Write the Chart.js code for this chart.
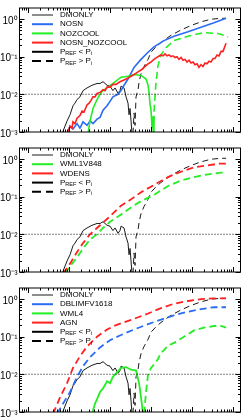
<!DOCTYPE html>
<html><head><meta charset="utf-8">
<script src="https://cdn.jsdelivr.net/npm/chart.js@4.4.1/dist/chart.umd.min.js"></script>
<style>
html,body{margin:0;padding:0;background:#fff;overflow:hidden}
#wrap{position:relative;width:242px;height:419px;overflow:hidden}
canvas{position:absolute;left:0}
</style></head><body>
<div id="wrap">
<canvas id="c1" width="242" height="140" style="top:0"></canvas>
<canvas id="c2" width="242" height="140" style="top:140px"></canvas>
<canvas id="c3" width="242" height="140" style="top:280px"></canvas>
</div>
<script>
// ---------- axis limits & reference level ----------
const K_MIN = 0.0062, K_MAX = 1524;
const Y_MIN = 0.001, Y_MAX = 1.93;
const REF_LEVEL = 0.01;
const Y_TICK_VALUES = [1, 0.1, 0.01, 0.001];
const Y_TICK_LABELS = ['10\u2070', '10\u207B\u00B9', '10\u207B\u00B2', '10\u207B\u00B3'];

// ---------- DMONLY (same in every panel) ----------
const dmonlySolidK = [0.0676,0.0896,0.106,0.125,0.140,0.157,0.185,0.220,0.275,0.364,0.483,0.571,0.676,0.847,1.00,1.18,1.33,1.57,1.75,1.86,2.20,2.46,2.75,2.91,3.08,3.26,3.44];
const dmonlySolidP = [0.0009,0.00196,0.00287,0.00495,0.00583,0.00725,0.00853,0.0125,0.0147,0.0173,0.0193,0.0193,0.0215,0.0173,0.0164,0.0125,0.0147,0.0106,0.0125,0.0164,0.0147,0.00853,0.00583,0.00287,0.00421,0.00196,0.0009];
const dmonlyDashK = [3.64,3.85,4.08,4.31,4.83,5.11,5.71,6.76,8.47,10.0,13.2,17.5,23.2,30.8,54.0,94.7,166,291,511,676];
const dmonlyDashP = [0.0009,0.0032,0.0015,0.00853,0.0132,0.0205,0.0352,0.0544,0.084,0.130,0.180,0.236,0.294,0.365,0.506,0.665,0.83,0.973,1.03,1.03];

// ---------- panel 1 ----------
const nosnK = [0.0896,0.106,0.125,0.157,0.185,0.220,0.275,0.326,0.385,0.483,0.571,0.676,0.847,1.00,1.18,1.57,1.86,2.20,2.75,3.85,5.71,8.47,11.8,20.8,36.4,80.0,166,344,676];
const nosnP = [0.0009,0.00142,0.0012,0.00167,0.00127,0.00186,0.0015,0.00196,0.00167,0.00219,0.00244,0.00377,0.00495,0.0065,0.00853,0.0100,0.0125,0.0173,0.0254,0.0515,0.084,0.130,0.180,0.264,0.346,0.454,0.596,0.783,1.03];
const nozcoolSolidK = [0.291,0.326,0.385,0.483,0.571,0.676,0.847,1.18,1.86,2.75,3.85,5.71,7.57,8.47,8.96,9.47,10.0,10.6,11.2,11.8];
const nozcoolSolidP = [0.0009,0.00196,0.00421,0.00725,0.0100,0.0125,0.0147,0.0193,0.0283,0.0299,0.0333,0.0316,0.0254,0.0173,0.0112,0.0055,0.00377,0.00127,0.0026,0.0009];
const nozcoolDashK = [11.2,11.8,12.5,13.2,14.8,17.5,23.2,36.4,80.0,196,431,604,757];
const nozcoolDashP = [0.0009,0.0032,0.00853,0.0193,0.0574,0.110,0.171,0.264,0.346,0.430,0.407,0.365,0.328];
const nosnNozcoolK = [0.0947,0.106,0.118,0.125,0.140,0.157,0.185,0.208,0.232,0.275,0.308,0.344,0.385,0.431,0.483,0.571,0.676,0.757,0.847,1.00,1.18,1.40,1.75,2.20,2.75,3.26,3.85,4.83,5.71,6.76,8.47,10.0,11.8,14.8,17.5,19.6,22.0,24.6,27.5,30.8,34.4,38.5,43.1,48.3,54.0,60.4,67.6,75.7,84.7,94.7,106,118,133,148,166,186,208,232,260,291,326,364,408,456,511,571,639,676];
const nosnNozcoolP = [0.00097,0.00142,0.00127,0.00186,0.00167,0.00231,0.00272,0.00357,0.00338,0.0052,0.00583,0.0069,0.00853,0.00853,0.0106,0.0112,0.0132,0.0125,0.0155,0.0155,0.0183,0.0183,0.0215,0.0240,0.0268,0.0299,0.0333,0.0393,0.0438,0.0515,0.064,0.0714,0.084,0.099,0.110,0.104,0.117,0.104,0.110,0.099,0.104,0.094,0.099,0.084,0.094,0.0796,0.084,0.0714,0.0796,0.0676,0.0714,0.0606,0.064,0.0515,0.0606,0.0544,0.0676,0.064,0.0754,0.0714,0.0887,0.0887,0.110,0.104,0.137,0.137,0.19,0.224];

// ---------- panel 2 ----------
const wml1v848K = [0.0800,0.106,0.157,0.220,0.326,0.483,0.676,1.00,1.48,1.86,3.26,5.71,11.8,26.0,54.0,112,246,511,676];
const wml1v848P = [0.0009,0.00142,0.00244,0.00421,0.00725,0.0100,0.0147,0.0215,0.0283,0.0333,0.0515,0.0754,0.110,0.190,0.264,0.328,0.386,0.430,0.430];
const wdensK = [0.0715,0.106,0.157,0.220,0.326,0.571,1.00,1.86,3.26,5.71,11.8,26.0,54.0,112,246,431,676];
const wdensP = [0.0009,0.00167,0.00338,0.00583,0.0100,0.0173,0.0299,0.0574,0.084,0.130,0.201,0.328,0.454,0.596,0.665,0.741,0.741];

// ---------- panel 3 ----------
const agnK = [0.0408,0.0604,0.0896,0.125,0.185,0.275,0.483,0.847,1.25,1.86,3.85,8.47,17.5,36.4,80.0,166,344,676];
const agnP = [0.0009,0.00244,0.00583,0.0147,0.0299,0.0544,0.099,0.153,0.190,0.224,0.294,0.407,0.565,0.741,0.873,0.973,1.03,1.03];
const dblimK = [0.0511,0.0715,0.106,0.157,0.220,0.326,0.571,1.00,1.86,3.85,8.47,17.5,36.4,80.0,166,344,676];
const dblimP = [0.0009,0.00167,0.00338,0.00853,0.0164,0.0283,0.0515,0.0796,0.110,0.153,0.213,0.279,0.365,0.454,0.535,0.596,0.596];
const wml4SolidK = [0.364,0.431,0.483,0.571,0.676,0.847,1.00,1.18,1.48,1.86,2.46,3.26,4.31,5.11,5.71,6.39];
const wml4SolidP = [0.0009,0.00167,0.00219,0.00338,0.00421,0.0065,0.00583,0.00853,0.0112,0.0147,0.0155,0.0132,0.0125,0.00583,0.00244,0.0009];
const wml4DashK = [6.76,7.57,8.47,10.0,12.5,14.8,17.5,20.8,26.0,36.4,63.9,112,196,344,511,676];
const wml4DashP = [0.0009,0.00338,0.0100,0.0147,0.0193,0.0254,0.0371,0.0438,0.0574,0.0676,0.099,0.145,0.171,0.190,0.190,0.171];

// ---------- legend labels ----------
const legend1 = ['DMONLY','NOSN','NOZCOOL','NOSN_NOZCOOL'];
const legend2 = ['DMONLY','WML1V848','WDENS'];
const legend3 = ['DMONLY','DBLIMFV1618','WML4','AGN'];

const BLUE = '#2a6cf5', GREEN = '#22ee22', RED = '#ff2020', BLACK = '#1a1a1a';
const DASH = [7,4];
const FONT = '"Liberation Sans", Arial, sans-serif';

function pts(k, p){ return k.map((v,i)=>({x:v, y:p[i]})); }
function ds(k, p, color, width, dash){
  return {data: pts(k,p), borderColor: color, borderWidth: width, borderDash: dash || [],
          pointRadius: 0, fill: false, tension: 0};
}
function refLine(){
  return {data: [{x:K_MIN,y:REF_LEVEL},{x:K_MAX,y:REF_LEVEL}], borderColor:'#000', borderWidth:1,
          borderDash:[1,2], pointRadius:0, fill:false};
}
function dmonlySets(){
  return [ds(dmonlySolidK, dmonlySolidP, BLACK, 1), ds(dmonlyDashK, dmonlyDashP, BLACK, 1, [6,4])];
}

const MINORS = [1,2,3,4,5,6,7,8,9];
const framePlugin = {
  id: 'frame',
  afterDatasetsDraw(chart){
    const {ctx, chartArea:a, scales:{x,y}} = chart;
    ctx.save();
    ctx.strokeStyle = '#000'; ctx.lineWidth = 1; ctx.setLineDash([]);
    ctx.strokeRect(a.left, a.top, a.right - a.left, a.bottom - a.top);
    ctx.beginPath();
    for (let e = -4; e <= 1; e++) for (const m of MINORS) {
      const v = m * Math.pow(10, e);
      if (v < y.min || v > y.max) continue;
      const p = Math.round(y.getPixelForValue(v)) + 0.5;
      const L = m === 1 ? 5 : 2.5;
      ctx.moveTo(a.left, p); ctx.lineTo(a.left + L, p);
      ctx.moveTo(a.right, p); ctx.lineTo(a.right - L, p);
    }
    for (let e = -3; e <= 4; e++) for (const m of MINORS) {
      const v = m * Math.pow(10, e);
      if (v < x.min || v > x.max) continue;
      const p = Math.round(x.getPixelForValue(v)) + 0.5;
      const L = m === 1 ? 5 : 2.5;
      ctx.moveTo(p, a.bottom); ctx.lineTo(p, a.bottom - L);
      ctx.moveTo(p, a.top); ctx.lineTo(p, a.top + L);
    }
    ctx.stroke();
    ctx.restore();
  }
};

function legendPlugin(entries){
  return {
    id: 'customLegend',
    afterDraw(chart){
      const ctx = chart.ctx;
      ctx.save();
      entries.forEach((e, i) => {
        const yy = 15 + i * 9.2;
        ctx.strokeStyle = e.color; ctx.lineWidth = e.width; ctx.setLineDash(e.dash || []);
        ctx.beginPath(); ctx.moveTo(32, yy); ctx.lineTo(53, yy); ctx.stroke();
        ctx.setLineDash([]);
        ctx.fillStyle = '#000'; ctx.textBaseline = 'middle'; ctx.textAlign = 'left';
        let xx = 60;
        const parts = e.parts || [[e.label, 0]];
        parts.forEach(([t, sub]) => {
          ctx.font = (sub ? '5.5px ' : '8px ') + FONT;
          ctx.fillText(t, xx, yy + (sub ? 2 : 0));
          xx += ctx.measureText(t).width;
        });
      });
      ctx.restore();
    }
  };
}

function legendEntries(labels, colors){
  const list = labels.map((l, i) => ({label: l, color: colors[i], width: i === 0 ? 1 : 2}));
  list.push({parts: [['P',0],['REF',1],[' < ',0],['P',0],['i',1]], color: '#000', width: 2});
  list.push({parts: [['P',0],['REF',1],[' > ',0],['P',0],['i',1]], color: '#000', width: 2, dash: [9,5]});
  return list;
}

function makeChart(id, datasets, entries){
  return new Chart(document.getElementById(id), {
    type: 'line',
    data: {datasets},
    options: {
      responsive: false, animation: false, devicePixelRatio: 1,
      layout: {padding: {left: 0, right: 1.5, top: 0.5, bottom: 0.5}},
      plugins: {legend: {display: false}, tooltip: {enabled: false}},
      scales: {
        x: {type: 'logarithmic', min: K_MIN, max: K_MAX,
            grid: {display: false}, border: {display: false},
            ticks: {display: false},
            afterFit(s){ s.height = 0; }},
        y: {type: 'logarithmic', min: Y_MIN, max: Y_MAX,
            grid: {display: false, drawTicks: false}, border: {display: false},
            afterBuildTicks(s){ s.ticks = Y_TICK_VALUES.map(v => ({value: v})); },
            ticks: {padding: 2, labelOffset: 2, color: '#000', font: {family: FONT, size: 10},
                    callback(v){ const i = Y_TICK_VALUES.indexOf(v); return i >= 0 ? Y_TICK_LABELS[i] : ''; }},
            afterFit(s){ s.width = 19.5; }}
      }
    },
    plugins: [framePlugin, legendPlugin(entries)]
  });
}

makeChart('c1', [
  refLine(),
  ds(nosnNozcoolK, nosnNozcoolP, RED, 1.6),
  ds(nozcoolSolidK, nozcoolSolidP, GREEN, 1.6),
  ds(nozcoolDashK, nozcoolDashP, GREEN, 1.6, DASH),
  ds(nosnK, nosnP, BLUE, 1.6),
  ...dmonlySets()
], legendEntries(legend1, [BLACK, BLUE, GREEN, RED]));

makeChart('c2', [
  refLine(),
  ds(wdensK, wdensP, RED, 1.8, DASH),
  ds(wml1v848K, wml1v848P, GREEN, 1.8, DASH),
  ...dmonlySets()
], legendEntries(legend2, [BLACK, GREEN, RED]));

makeChart('c3', [
  refLine(),
  ds(agnK, agnP, RED, 1.8, DASH),
  ds(dblimK, dblimP, BLUE, 1.8, DASH),
  ds(wml4SolidK, wml4SolidP, GREEN, 1.8),
  ds(wml4DashK, wml4DashP, GREEN, 1.8, DASH),
  ...dmonlySets()
], legendEntries(legend3, [BLACK, BLUE, GREEN, RED]));
</script>
</body></html>
